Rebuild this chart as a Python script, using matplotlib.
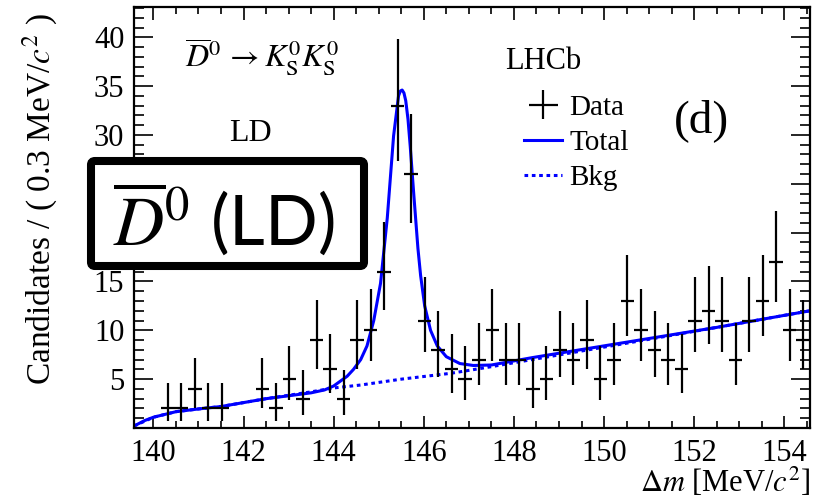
import numpy as np
import matplotlib
matplotlib.use("Agg")
import matplotlib.pyplot as plt
from matplotlib.ticker import MultipleLocator
from matplotlib.lines import Line2D
from matplotlib.patches import FancyBboxPatch

plt.rcParams['font.family'] = ['Liberation Serif', 'DejaVu Serif']
plt.rcParams['mathtext.fontset'] = 'stix'

# binning: 50 bins of 0.3 MeV from the pion threshold
dm_lo = 139.57
bin_w = 0.3
counts = [0, 0, 2, 2, 4, 2, 2, 0, 0, 4,
          2, 5, 3, 9, 6, 3, 9, 10, 16, 33,
          26, 11, 8, 6, 5, 7, 10, 7, 7, 4,
          5, 8, 7, 9, 5, 7, 13, 10, 8, 7,
          6, 11, 12, 11, 7, 11, 13, 17, 10, 9]

# fit curves
total_x = [139.57, 139.8, 140.0, 140.5, 141.0, 141.5, 142.0, 142.5, 143.0, 143.5,
           143.8, 144.0, 144.15, 144.3, 144.44, 144.6, 144.74, 144.89, 145.04, 145.19,
           145.33, 145.44, 145.48, 145.52, 145.56, 145.6, 145.65, 145.7, 145.78, 145.87,
           145.93, 146.02, 146.15, 146.3, 146.5, 146.8, 147.1, 147.5, 148.4, 150.65,
           152.5, 154.57]
total_y = [0.2, 0.75, 1.1, 1.67, 1.95, 2.2, 2.6, 3.0, 3.3, 3.6,
           3.9, 4.3, 4.8, 5.3, 6.0, 7.0, 8.4, 11.0, 14.8, 21.5,
           29.9, 34.0, 34.5, 34.6, 34.3, 33.5, 31.6, 28.8, 23.8, 18.4,
           15.6, 12.5, 10.0, 8.4, 7.3, 6.6, 6.4, 6.45, 7.2, 8.9,
           10.3, 12.0]
bkg_x = [139.57, 140.0, 140.5, 141.0, 141.5, 142.0, 142.5, 143.0, 143.5, 144.0,
         144.6, 145.5, 146.6, 147.4, 148.4, 150.65, 152.5, 154.57]
bkg_y = [0.2, 1.1, 1.67, 1.95, 2.2, 2.6, 3.0, 3.35, 3.7, 4.1,
         4.4, 5.0, 5.6, 6.2, 7.0, 8.8, 10.3, 12.0]

n = np.array(counts, dtype=float)
centers = dm_lo + bin_w * (np.arange(len(n)) + 0.5)


# asymmetric poisson errors (Wilson-Hilferty approx. of chi2 quantiles)
def chi2q(k, z):
    return k * (1 - 2.0 / (9 * k) + z * np.sqrt(2.0 / (9 * k))) ** 3


m = n > 0
err_lo = n[m] - 0.5 * chi2q(2 * n[m], -1.0)
err_hi = 0.5 * chi2q(2 * n[m] + 2, 1.0) - n[m]

fig = plt.figure(figsize=(8.2, 5.04), dpi=100)
ax = fig.add_axes([134 / 820, 1 - 428 / 504, 676 / 820, 421 / 504])

ax.plot(bkg_x, bkg_y, color='blue', lw=2.2, ls=(0, (1.2, 1.2)))
ax.plot(total_x, total_y, color='blue', lw=2.2)
data = ax.errorbar(centers[m], n[m], xerr=bin_w / 2, yerr=[err_lo, err_hi],
                   fmt='none', ecolor='black', elinewidth=1.6, capsize=0)

ax.set_xlim(139.57, 154.57)
ax.set_ylim(0, 43.1)
ax.set_xticks(np.arange(140, 155, 2))
yt = np.arange(5, 41, 5)
ax.set_yticks(yt)
# 20 and 25 sit under the overlay box
ax.set_yticklabels(['' if v in (20, 25) else str(v) for v in yt])
ax.xaxis.set_minor_locator(MultipleLocator(0.5))
ax.yaxis.set_minor_locator(MultipleLocator(1))
ax.tick_params(which='both', direction='in', top=True, right=True, width=1.2,
               labelsize=22)
ax.tick_params(axis='x', which='major', length=9, pad=8)
ax.tick_params(axis='x', which='minor', length=5)
ax.tick_params(axis='y', which='major', length=14, pad=7)
ax.tick_params(axis='y', which='minor', length=7)
for s in ax.spines.values():
    s.set_linewidth(1.6)

fig.text(40 / 820, 1 - 199 / 504, r'Candidates / ( 0.3 MeV/$c^2$ )',
         rotation=90, ha='center', va='center', fontsize=24)
fig.text(810 / 820, 1 - 482 / 504, r'$\Delta m$ [MeV/$c^2$]',
         ha='right', va='center', fontsize=22)

ax.text(0.19, 0.88, r'$\overline{D}^{0}\,\rightarrow K^{0}_{\mathrm{S}}K^{0}_{\mathrm{S}}$',
        transform=ax.transAxes, ha='center', va='center', fontsize=23)
ax.text(0.172, 0.70, 'LD', transform=ax.transAxes, ha='center', va='center',
        fontsize=23)
ax.text(0.605, 0.87, 'LHCb', transform=ax.transAxes, ha='center', va='center',
        fontsize=22)
ax.text(0.84, 0.73, '(d)', transform=ax.transAxes, ha='center', va='center',
        fontsize=34)

handles = [data,
           Line2D([], [], color='blue', lw=2.2),
           Line2D([], [], color='blue', lw=2.2, ls=(0, (1.2, 1.2)))]
ax.legend(handles, ['Data', 'Total', 'Bkg'], loc='upper left',
          bbox_to_anchor=(0.56, 0.82), frameon=False, fontsize=21,
          handlelength=1.3, handletextpad=0.25, labelspacing=0.3,
          borderaxespad=0)

# overlay label box
box = FancyBboxPatch((0.91, 2.38), 2.73, 1.05,
                     boxstyle='round,pad=0,rounding_size=0.04',
                     transform=fig.dpi_scale_trans, facecolor='white',
                     edgecolor='black', lw=5.8, zorder=10)
fig.patches.append(box)
fig.text(224 / 820, 1 - 218 / 504, r'$\overline{D}^{0}$ (LD)', ha='center',
         va='center', fontsize=50, family='Lato', zorder=11)

fig.savefig('out.png', dpi=100)
